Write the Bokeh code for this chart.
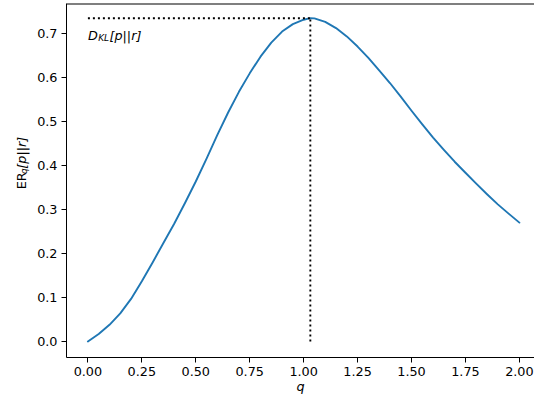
import math
from bokeh.plotting import figure
from bokeh.layouts import row
from bokeh.models import Range1d, FixedTicker, NumeralTickFormatter, Label, Span
from bokeh.core.properties import value
from bokeh.embed import file_html
from bokeh.resources import INLINE

# ---- data ----
q_values = [0.00, 0.05, 0.10, 0.15, 0.20, 0.25, 0.30, 0.35, 0.40, 0.45, 0.50,
            0.55, 0.60, 0.65, 0.70, 0.75, 0.80, 0.85, 0.90, 0.95, 1.00, 1.031,
            1.05, 1.10, 1.15, 1.20, 1.25, 1.30, 1.35, 1.40, 1.45, 1.50, 1.55,
            1.60, 1.65, 1.70, 1.75, 1.80, 1.85, 1.90, 1.95, 2.00]
er_values = [0.000, 0.017, 0.038, 0.064, 0.097, 0.137, 0.180, 0.224, 0.268,
             0.315, 0.364, 0.416, 0.470, 0.521, 0.568, 0.610, 0.648, 0.680,
             0.705, 0.722, 0.732, 0.7355, 0.735, 0.727, 0.713, 0.694, 0.671,
             0.645, 0.617, 0.588, 0.557, 0.525, 0.494, 0.464, 0.436, 0.409,
             0.384, 0.359, 0.335, 0.312, 0.291, 0.2705]
q_star = 1.031
d_kl = 0.7355
x_ticks = [0.0, 0.25, 0.5, 0.75, 1.0, 1.25, 1.5, 1.75, 2.0]
y_ticks = [0.0, 0.1, 0.2, 0.3, 0.4, 0.5, 0.6, 0.7]

FONT = "DejaVu Sans"
FS = "12.8px"
SUB = "9px"

x0, x1 = -0.0992, 2.070
y0, y1 = -0.0363, 0.7689

LEFT_W = 34
H = 396

p = figure(width=534 - LEFT_W, height=H, output_backend="svg",
           toolbar_location=None,
           x_range=Range1d(x0, x1), y_range=Range1d(y0, y1),
           min_border_left=64 - LEFT_W, min_border_right=0, min_border_top=3,
           min_border_bottom=38, background_fill_color="white",
           border_fill_color="white")
p.outline_line_color = None
p.grid.visible = False

p.line(q_values, er_values, line_color="#1f77b4", line_width=1.9,
       line_join="round", line_cap="round")
p.line([0.0, q_star], [d_kl, d_kl], line_color="black", line_width=1.9,
       line_dash="2 3")
p.line([q_star, q_star], [0.0, d_kl], line_color="black", line_width=1.9,
       line_dash="2 3")

for ax in (p.xaxis[0], p.yaxis[0]):
    ax.axis_line_color = "black"
    ax.axis_line_width = 1
    ax.major_tick_line_color = "black"
    ax.major_tick_line_width = 1
    ax.major_tick_out = 5
    ax.major_tick_in = 0
    ax.minor_tick_line_color = None
    ax.major_label_text_font = FONT
    ax.major_label_text_font_size = FS
    ax.major_label_text_color = "black"
    ax.major_label_standoff = 4

p.xaxis.ticker = FixedTicker(ticks=x_ticks)
p.xaxis.formatter = NumeralTickFormatter(format="0.00")
p.yaxis.ticker = FixedTicker(ticks=y_ticks)
p.yaxis.formatter = NumeralTickFormatter(format="0.0")
p.xaxis.axis_label = "q"
p.xaxis.axis_label_text_font = FONT
p.xaxis.axis_label_text_font_size = FS
p.xaxis.axis_label_text_font_style = "italic"
p.xaxis.axis_label_text_color = "black"
p.xaxis.axis_label_standoff = 0

# top spine
p.add_layout(Span(location=y1, dimension="width", line_color="black",
                  line_width=2))

# D_KL[p||r] annotation
lab_kw = dict(text_font=FONT, text_color="black", text_baseline="alphabetic",
              text_align="left", text_font_style="italic")
p.add_layout(Label(x=0.0, y=d_kl, x_offset=0, y_offset=-17, text="D",
                   text_font_size=FS, **lab_kw))
p.add_layout(Label(x=0.0, y=d_kl, x_offset=10.3, y_offset=-19.5, text="KL",
                   text_font_size=SUB, **lab_kw))
p.add_layout(Label(x=0.0, y=d_kl, x_offset=21.5, y_offset=-17, text="[p||r]",
                   text_font_size=FS, **lab_kw))

# left strip holding the rotated y-axis label ER_q[p||r]
lf = figure(width=LEFT_W, height=H, output_backend="svg", toolbar_location=None,
            x_range=Range1d(0, LEFT_W), y_range=Range1d(0, H),
            min_border_left=0, min_border_right=0, min_border_top=0,
            min_border_bottom=0, background_fill_color="white",
            border_fill_color="white")
lf.axis.visible = False
lf.grid.visible = False
lf.outline_line_color = None

base_x = 20.5
base_y = H - 207.8
rot = math.pi / 2
lf.text(x=[base_x], y=[base_y], text=["ER"], angle=rot,
        text_font=value(FONT), text_font_size=FS, text_color="black",
        text_baseline="alphabetic", text_align="left")
lf.text(x=[base_x + 2.5], y=[base_y + 17.0], text=["q"], angle=rot,
        text_font=value(FONT), text_font_size=SUB, text_font_style="italic",
        text_color="black", text_baseline="alphabetic", text_align="left")
lf.text(x=[base_x], y=[base_y + 23.0], text=["[p||r]"], angle=rot,
        text_font=value(FONT), text_font_size=FS, text_font_style="italic",
        text_color="black", text_baseline="alphabetic", text_align="left")

layout = row(lf, p, spacing=0)
open("out.html", "w").write(file_html(layout, INLINE))
